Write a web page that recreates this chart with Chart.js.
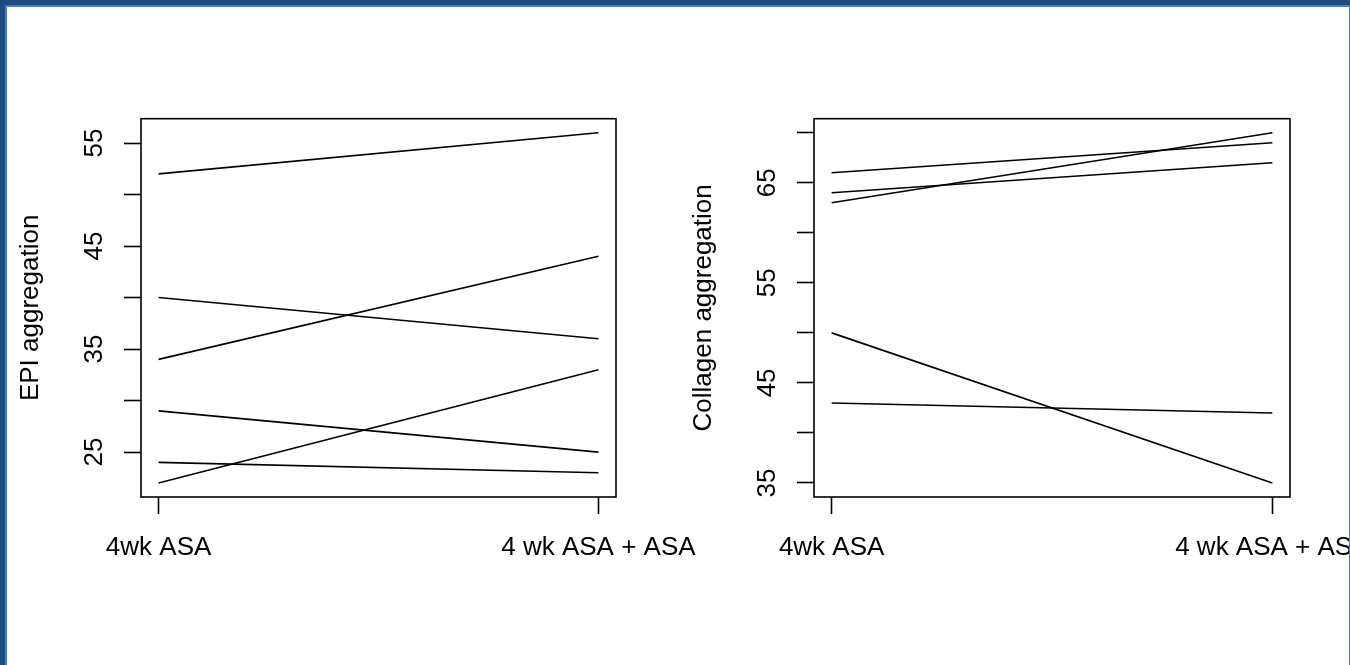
<!DOCTYPE html>
<html>
<head>
<meta charset="utf-8">
<script src="https://cdn.jsdelivr.net/npm/chart.js@4/dist/chart.umd.min.js"></script>
<style>
  html, body { margin: 0; padding: 0; background: #fff; }
  body { position: relative; width: 1350px; height: 665px; overflow: hidden; }
  canvas { position: absolute; top: 0; }
  #epi { left: 0; }
  #collagen { left: 673px; }
  .edge { position: absolute; }
  #topDark  { left: 0; top: 0; width: 1350px; height: 5px; background: #1f4b80; }
  #leftDark { left: 0; top: 0; width: 5px; height: 665px; background: #1f4b80; }
  #topLight { left: 5px; top: 5px; width: 1345px; height: 2px; background: #4a7dbb; }
  #leftLight { left: 5px; top: 5px; width: 2px; height: 660px; background: #4a7dbb; }
  #rightLight { left: 1349px; top: 7px; width: 1px; height: 658px; background: #4a7dbb; }
</style>
</head>
<body>
<canvas id="epi" width="1349" height="665"></canvas>
<canvas id="collagen" width="676" height="665"></canvas>
<div class="edge" id="topDark"></div>
<div class="edge" id="leftDark"></div>
<div class="edge" id="topLight"></div>
<div class="edge" id="leftLight"></div>
<div class="edge" id="rightLight"></div>
<script>
// Treatment periods (x categories) and their positions on the x axis
const categories = ['4wk ASA', '4 wk ASA + ASA'];
const xPositions = [1, 2];

// Platelet aggregation with epinephrine, one line per subject
const epiBefore = [52, 40, 34, 29, 24, 22];
const epiAfter  = [56, 36, 44, 25, 23, 33];
const epiTicks  = [25, 30, 35, 40, 45, 50, 55];
const epiTickLabels = [25, 35, 45, 55];

// Platelet aggregation with collagen, one line per subject
const collagenBefore = [66, 64, 63, 50, 43];
const collagenAfter  = [69, 67, 70, 35, 42];
const collagenTicks  = [35, 40, 45, 50, 55, 60, 65, 70];
const collagenTickLabels = [35, 45, 55, 65];

const axisFont = { family: '"Liberation Sans", Arial, Helvetica, sans-serif', size: 26 };

// Extend a data range by a fraction on each side
function paddedRange(values, frac) {
  const lo = Math.min(...values), hi = Math.max(...values);
  const d = (hi - lo) * frac;
  return [lo - d, hi + d];
}

// Full rectangle around the plotting region
const plotBox = {
  id: 'plotBox',
  afterDraw(chart) {
    const { ctx, chartArea: a } = chart;
    ctx.save();
    ctx.strokeStyle = '#000';
    ctx.lineWidth = 1.6;
    ctx.strokeRect(a.left, a.top, a.right - a.left, a.bottom - a.top);
    ctx.restore();
  }
};

// rightSpace: room between the plot box and the canvas's right edge
function makePanel(id, rightSpace, before, after, yTicks, yTickLabels, yTitle) {
  const [ymin, ymax] = paddedRange(before.concat(after), 0.04);
  const [xmin, xmax] = paddedRange(xPositions, 0.04);
  const datasets = before.map((b, i) => ({
    data: [{ x: xPositions[0], y: b }, { x: xPositions[1], y: after[i] }],
    borderColor: '#000',
    borderWidth: 1.6,
    pointRadius: 0,
    fill: false,
    tension: 0
  }));
  const tickGrid = { drawOnChartArea: false, drawTicks: true, tickLength: 17, tickColor: '#000', tickWidth: 1.6 };

  return new Chart(document.getElementById(id), {
    type: 'line',
    data: { datasets },
    options: {
      responsive: false,
      animation: false,
      devicePixelRatio: 1,
      layout: { padding: { left: 0, top: 118.7, right: rightSpace, bottom: 68 } },
      plugins: { legend: { display: false }, tooltip: { enabled: false } },
      scales: {
        x: {
          type: 'linear',
          position: 'bottom',
          min: xmin,
          max: xmax,
          afterBuildTicks: s => { s.ticks = xPositions.map(v => ({ value: v })); },
          afterFit: s => { s.height = 100; s.paddingLeft = 0; s.paddingRight = 0; },
          ticks: {
            autoSkip: false, minRotation: 0, maxRotation: 0, padding: 18,
            color: '#000', font: axisFont,
            callback: v => { const i = xPositions.indexOf(v); return i >= 0 ? categories[i] : ''; }
          },
          grid: tickGrid,
          border: { display: false }
        },
        y: {
          type: 'linear',
          position: 'left',
          min: ymin,
          max: ymax,
          afterBuildTicks: s => { s.ticks = yTicks.map(v => ({ value: v })); },
          afterFit: s => { s.width = 141; s.paddingTop = 0; s.paddingBottom = 0; },
          ticks: {
            autoSkip: false, minRotation: 90, maxRotation: 90, crossAlign: 'center', padding: 14.5,
            color: '#000', font: axisFont,
            callback: v => yTickLabels.includes(v) ? String(v) : ''
          },
          grid: tickGrid,
          border: { display: false },
          title: { display: true, text: yTitle, color: '#000', font: axisFont, padding: { top: 15.5, bottom: 0 } }
        }
      }
    },
    plugins: [plotBox]
  });
}

makePanel('epi', 733, epiBefore, epiAfter, epiTicks, epiTickLabels, 'EPI aggregation');
makePanel('collagen', 59, collagenBefore, collagenAfter, collagenTicks, collagenTickLabels, 'Collagen aggregation');
</script>
</body>
</html>
